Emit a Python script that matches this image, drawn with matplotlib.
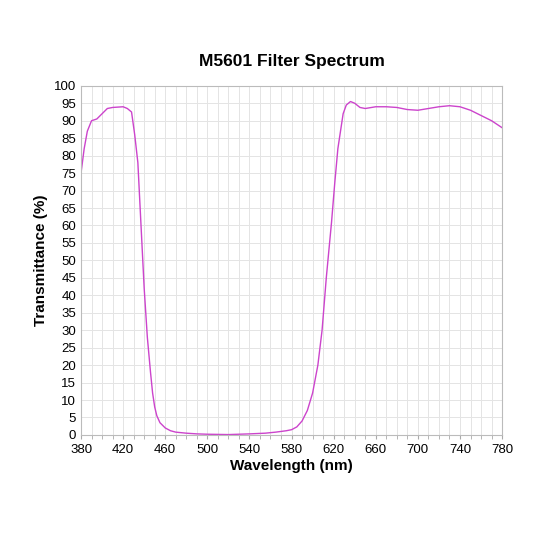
import matplotlib
matplotlib.use("Agg")
import matplotlib.pyplot as plt

# 读图估计的光谱数据
WAVELENGTH = [380, 383, 386, 390, 395, 400, 405, 410, 420, 424, 428, 431, 434, 437, 440,
              443, 446, 448, 450, 452, 455, 460, 465, 470, 480, 490, 500, 520, 540, 555,
              565, 575, 580, 585, 590, 595, 600, 605, 609, 613, 618, 621, 624, 627, 629,
              632, 636, 640, 645, 650, 660, 670, 680, 690, 700, 710, 720, 730, 740, 750,
              760, 770, 780]
TRANSMITTANCE = [75, 82, 87, 90, 90.5, 92, 93.5, 93.8, 94, 93.5, 92.5, 86, 78, 60, 42,
                 28, 18, 12, 8, 5.5, 3.5, 2, 1.2, 0.8, 0.5, 0.3, 0.2, 0.1, 0.3, 0.5,
                 0.8, 1.2, 1.5, 2.3, 4, 7, 12, 20, 30, 45, 61, 72, 82, 88, 92,
                 94.5, 95.5, 95, 93.8, 93.5, 94, 94, 93.8, 93.2, 93.0, 93.5, 94, 94.3, 94, 93,
                 91.5, 90, 88]

plt.rcParams["font.family"] = ["Liberation Sans", "DejaVu Sans"]

fig = plt.figure(figsize=(5.33, 5.33), dpi=100)
ax = fig.add_axes([0.152, 0.184, 0.79, 0.655])
ax.plot(WAVELENGTH, TRANSMITTANCE, color="#cc44cc", linewidth=1.0)

ax.set_xlim(380, 780)
ax.set_ylim(0, 100)
ax.set_xticks(range(380, 781, 40))
ax.set_xticks(range(380, 781, 10), minor=True)
ax.set_yticks(range(0, 101, 5))
ax.grid(True, which="both", color="#e4e4e4", linewidth=0.7)
ax.tick_params(which="both", length=3, color="#aaaaaa", labelsize=9.5)
ax.tick_params(axis="y", length=0)
for spine in ax.spines.values():
    spine.set_color("#bbbbbb")

ax.set_xlabel("Wavelength (nm)", fontsize=11, fontweight="bold", labelpad=2)
ax.set_ylabel("Transmittance (%)", fontsize=11, fontweight="bold")
fig.text(0.547, 0.876, "M5601 Filter Spectrum", ha="center", fontsize=12.5, fontweight="bold")

fig.savefig("out.png", dpi=100)
